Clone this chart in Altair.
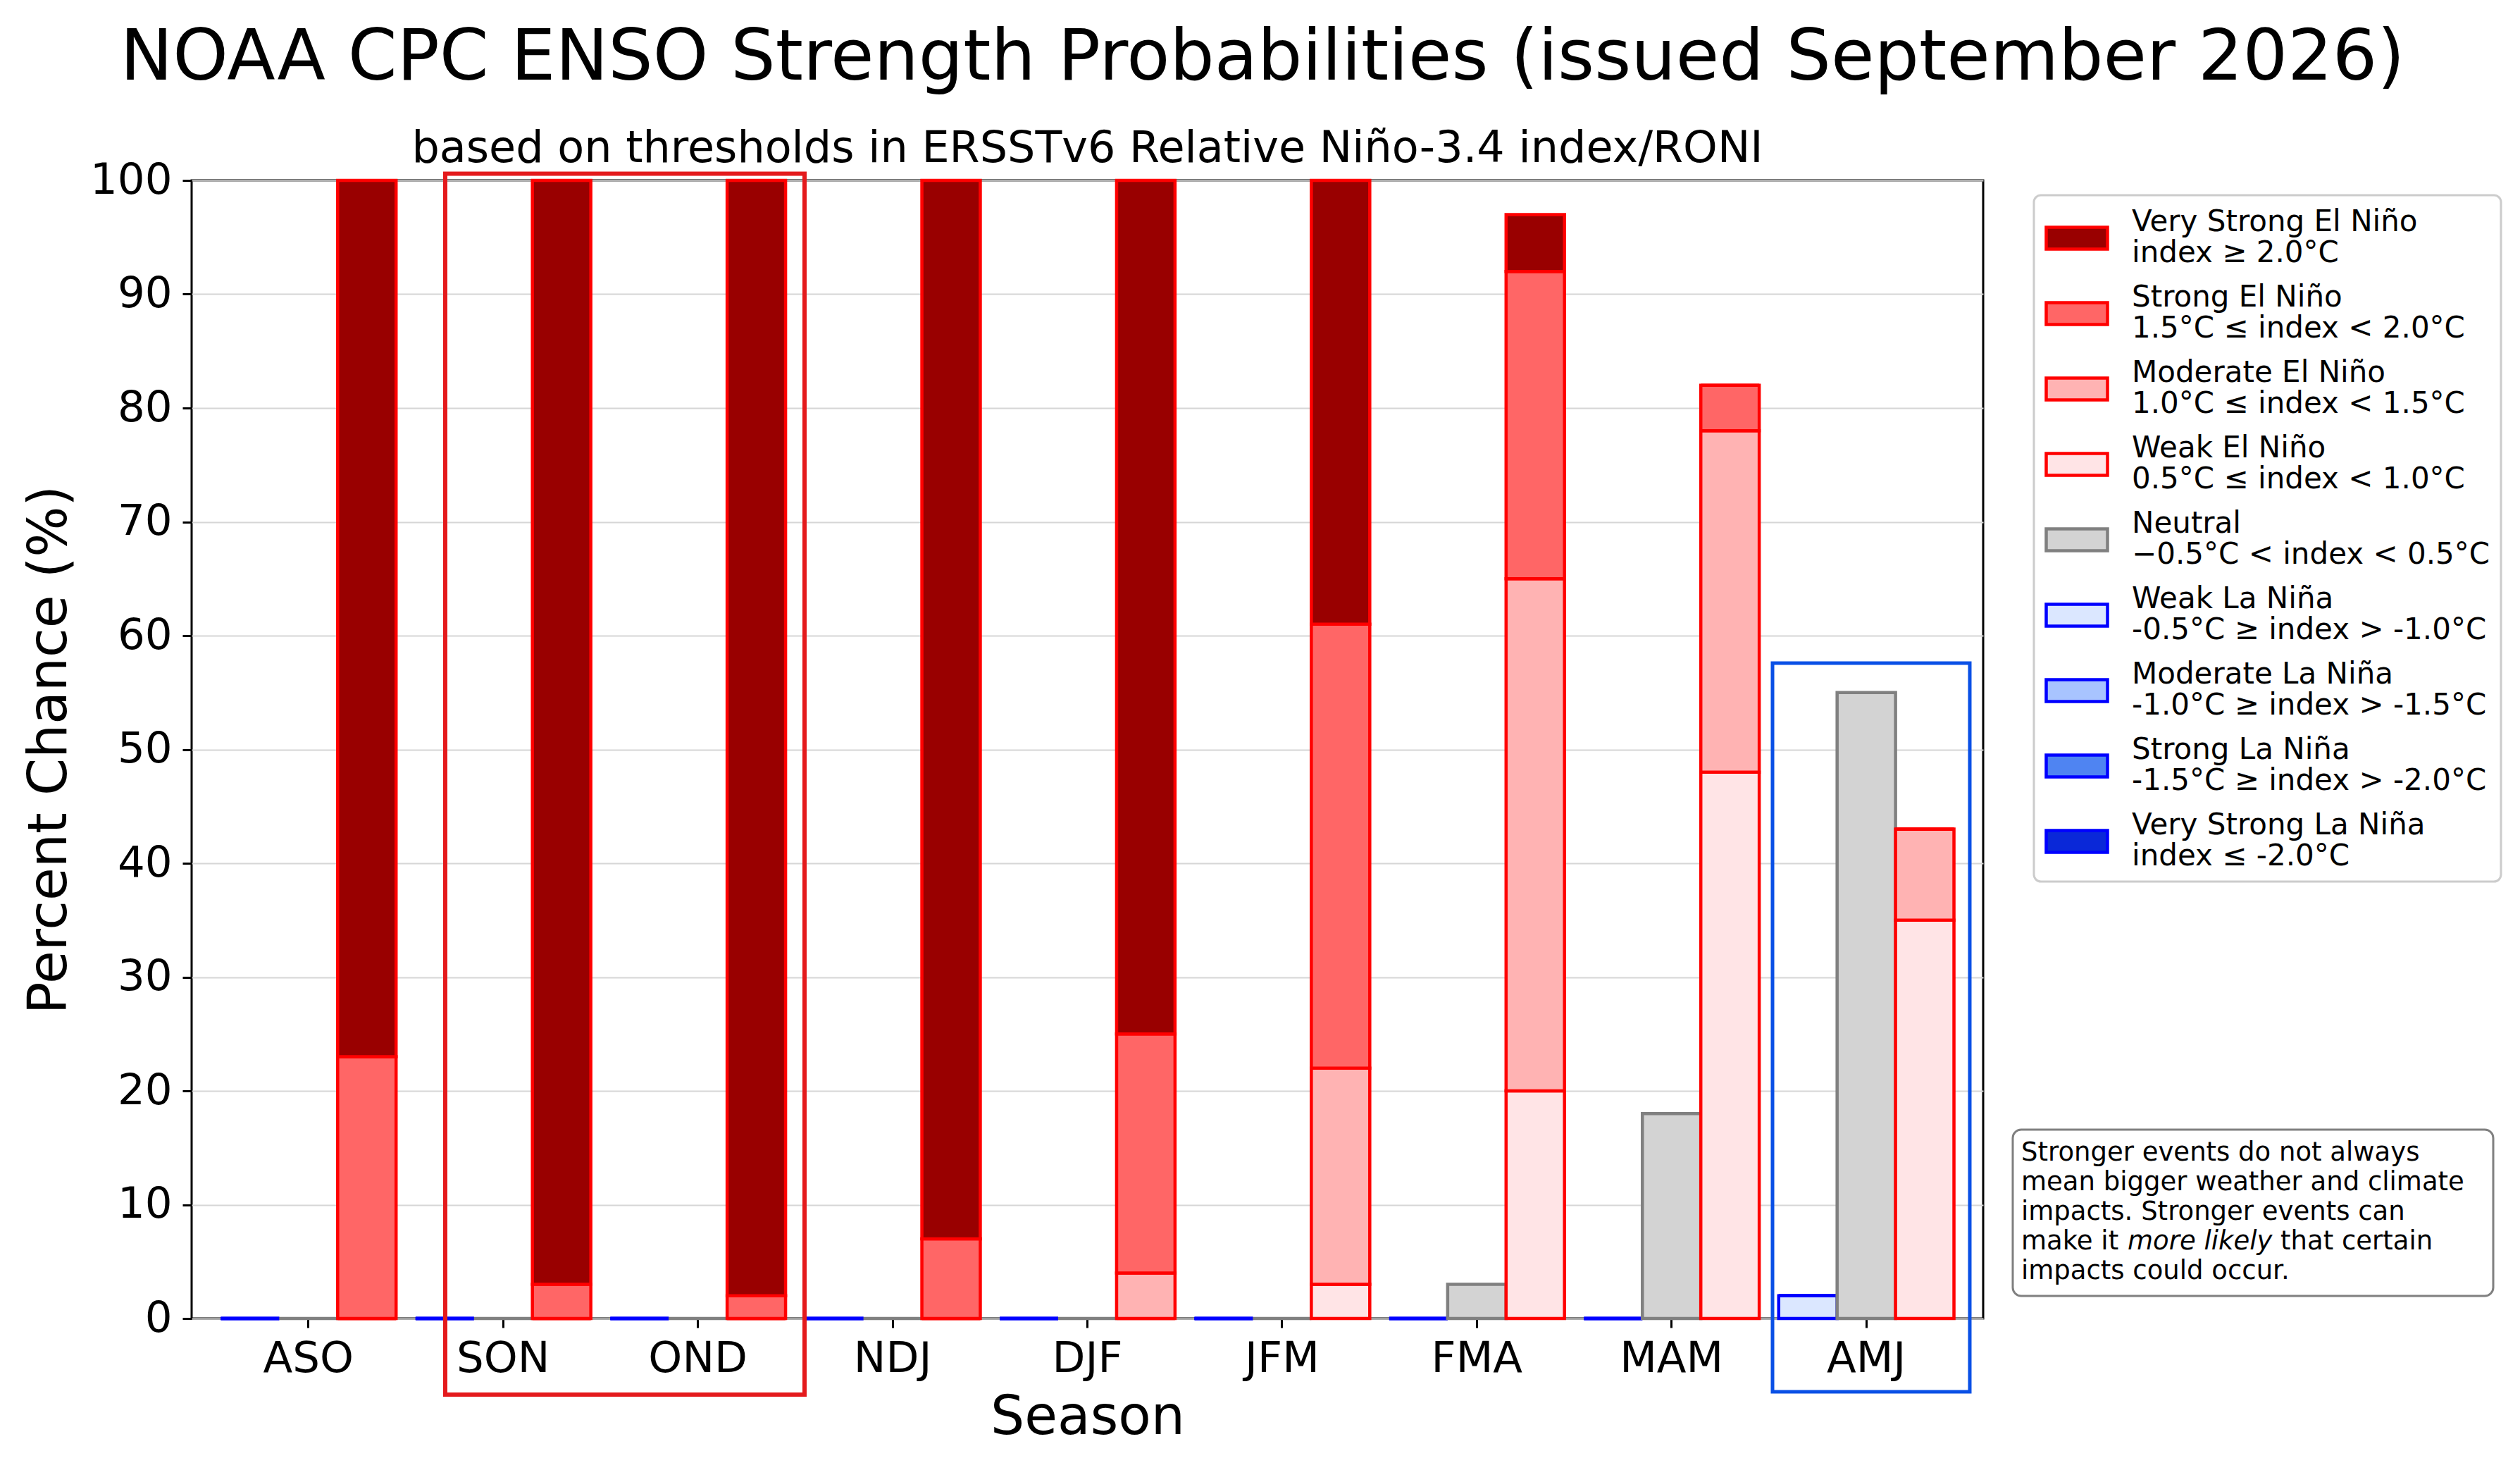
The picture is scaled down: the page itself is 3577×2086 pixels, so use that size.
import altair as alt
import pandas as pd

# ---------------- data ----------------
seasons = ["ASO", "SON", "OND", "NDJ", "DJF", "JFM", "FMA", "MAM", "AMJ"]

el_nino_weak = [0, 0, 0, 0, 0, 3, 20, 48, 35]
el_nino_moderate = [0, 0, 0, 0, 4, 19, 45, 30, 8]
el_nino_strong = [23, 3, 2, 7, 21, 39, 27, 4, 0]
el_nino_very_strong = [77, 97, 98, 93, 75, 39, 5, 0, 0]
neutral = [0, 0, 0, 0, 0, 0, 3, 18, 55]
la_nina_weak = [0, 0, 0, 0, 0, 0, 0, 0, 2]
la_nina_moderate = [0, 0, 0, 0, 0, 0, 0, 0, 0]
la_nina_strong = [0, 0, 0, 0, 0, 0, 0, 0, 0]
la_nina_very_strong = [0, 0, 0, 0, 0, 0, 0, 0, 0]

categories = [
    "Very Strong El Niño\nindex ≥ 2.0°C",
    "Strong El Niño\n1.5°C ≤ index < 2.0°C",
    "Moderate El Niño\n1.0°C ≤ index < 1.5°C",
    "Weak El Niño\n0.5°C ≤ index < 1.0°C",
    "Neutral\n−0.5°C < index < 0.5°C",
    "Weak La Niña\n-0.5°C ≥ index > -1.0°C",
    "Moderate La Niña\n-1.0°C ≥ index > -1.5°C",
    "Strong La Niña\n-1.5°C ≥ index > -2.0°C",
    "Very Strong La Niña\nindex ≤ -2.0°C",
]
groups = ["La Niña", "Neutral", "El Niño"]

# styles (kept apart from the values)
fill_colors = ["#990000", "#ff6666", "#ffb3b3", "#ffe4e6", "#d3d3d3",
               "#dbe7ff", "#a8c4ff", "#4f84f2", "#0a28d8"]
edge_colors = ["#ff0000", "#ff0000", "#ff0000", "#ff0000", "#808080",
               "#0000ff", "#0000ff", "#0000ff", "#0000ff"]

# stacking order within each bar (bottom -> top)
group_series = {
    "La Niña": [(categories[5], la_nina_weak), (categories[6], la_nina_moderate),
                (categories[7], la_nina_strong), (categories[8], la_nina_very_strong)],
    "Neutral": [(categories[4], neutral)],
    "El Niño": [(categories[3], el_nino_weak), (categories[2], el_nino_moderate),
                (categories[1], el_nino_strong), (categories[0], el_nino_very_strong)],
}

rows = []
for i, s in enumerate(seasons):
    for g in groups:
        base = 0
        for cat, vals in group_series[g]:
            v = vals[i]
            rows.append({"season": s, "group": g, "category": cat,
                         "value": v, "y0": base, "y1": base + v})
            base += v
df = pd.DataFrame(rows)

# ---------------- layout ----------------
W, H = 2543, 1615
FONT = "DejaVu Sans"

legend = alt.Legend(
    orient="none", legendX=2615, legendY=21, title=None, direction="vertical",
    labelFontSize=42, labelFont=FONT, labelColor="black", labelLimit=900,
    labelExpr="split(datum.label, '\\n')", labelOffset=32, labelBaseline="line-bottom",
    symbolType="M-1,-0.356L1,-0.356L1,0.356L-1,0.356Z", symbolSize=7569,
    symbolStrokeWidth=4.5, symbolOpacity=1, rowPadding=19, padding=15,
    fillColor="white", strokeColor="#cccccc", cornerRadius=10,
)

bars = alt.Chart(df).mark_bar(strokeWidth=4.5, opacity=1).encode(
    x=alt.X("season:N", sort=seasons,
            scale=alt.Scale(paddingInner=0.1, paddingOuter=0.15),
            axis=alt.Axis(title="Season", titleFontSize=76, titleFont=FONT,
                          titleFontWeight="normal", titleColor="black",
                          titleY=163, titleBaseline="alphabetic",
                          labelFontSize=61, labelFont=FONT, labelColor="black",
                          labelAngle=0, labelPadding=14, tickSize=13, tickWidth=3,
                          tickColor="black", domain=False, grid=False)),
    xOffset=alt.XOffset("group:N", sort=groups,
                        scale=alt.Scale(paddingInner=0, paddingOuter=0)),
    y=alt.Y("y0:Q", scale=alt.Scale(domain=[0, 100], nice=False),
            axis=alt.Axis(values=list(range(0, 101, 10)), title="Percent Chance (%)",
                          titleFontSize=76, titleFont=FONT, titleFontWeight="normal",
                          titleColor="black", titleAngle=270, titleX=-179, titleY=H / 2,
                          titleBaseline="alphabetic", titleAlign="center",
                          labelFontSize=61, labelFont=FONT, labelColor="black",
                          labelPadding=15, tickSize=13, tickWidth=3, tickColor="black",
                          domain=False, grid=True, gridColor="#d6d6d6", gridWidth=2)),
    y2="y1:Q",
    fill=alt.Fill("category:N", scale=alt.Scale(domain=categories, range=fill_colors),
                  legend=legend),
    stroke=alt.Stroke("category:N", scale=alt.Scale(domain=categories, range=edge_colors),
                      legend=legend),
)

one = pd.DataFrame({"k": [0]})

def text_layer(txt, x, y, size, align="left", baseline="alphabetic", style="normal"):
    return alt.Chart(pd.DataFrame({"label": [txt]})).mark_text(
        align=align, baseline=baseline, fontSize=size, font=FONT,
        fontStyle=style, color="black").encode(
        text="label:N", x=alt.value(x), y=alt.value(y))

title = text_layer("NOAA CPC ENSO Strength Probabilities (issued September 2026)",
                   1520, -143, 100, align="center")
subtitle = text_layer("based on thresholds in ERSSTv6 Relative Niño-3.4 index/RONI",
                      W / 2, -26, 62, align="center")

red_box = alt.Chart(one).mark_rect(fillOpacity=0, stroke="#e41a1c", strokeWidth=6).encode(
    x=alt.value(360), x2=alt.value(870), y=alt.value(-9.5), y2=alt.value(1723))
blue_box = alt.Chart(one).mark_rect(fillOpacity=0, stroke="#0a50e6", strokeWidth=5).encode(
    x=alt.value(2244), x2=alt.value(2524), y=alt.value(685), y2=alt.value(1719))

note_box = alt.Chart(one).mark_rect(fill="white", stroke="#808080", strokeWidth=3,
                                    cornerRadius=12).encode(
    x=alt.value(2585), x2=alt.value(3267), y=alt.value(1347), y2=alt.value(1583))

NX = 2597
FS = 37
n1 = text_layer("Stronger events do not always", NX, 1380, FS, baseline="middle")
n2 = text_layer("mean bigger weather and climate", NX, 1422, FS, baseline="middle")
n3 = text_layer("impacts. Stronger events can", NX, 1464, FS, baseline="middle")
n4a = text_layer("make it", NX, 1506, FS, baseline="middle")
n4b = text_layer("more likely", NX + 151, 1506, FS, baseline="middle", style="italic")
n4c = text_layer("that certain", NX + 368, 1506, FS, baseline="middle")
n5 = text_layer("impacts could occur.", NX, 1548, FS, baseline="middle")

chart = alt.layer(
    bars, red_box, blue_box, note_box, n1, n2, n3, n4a, n4b, n4c, n5, title, subtitle
).properties(
    width=W, height=H,
    autosize=alt.AutoSizeParams(type="none"),
    padding={"left": 264, "top": 248, "right": 740, "bottom": 195},
    background="white",
).configure(font=FONT).configure_view(
    stroke="black", strokeWidth=3
).configure_legend(strokeWidth=3)

chart.save("out.html", embed_options={"renderer": "svg", "actions": False})
